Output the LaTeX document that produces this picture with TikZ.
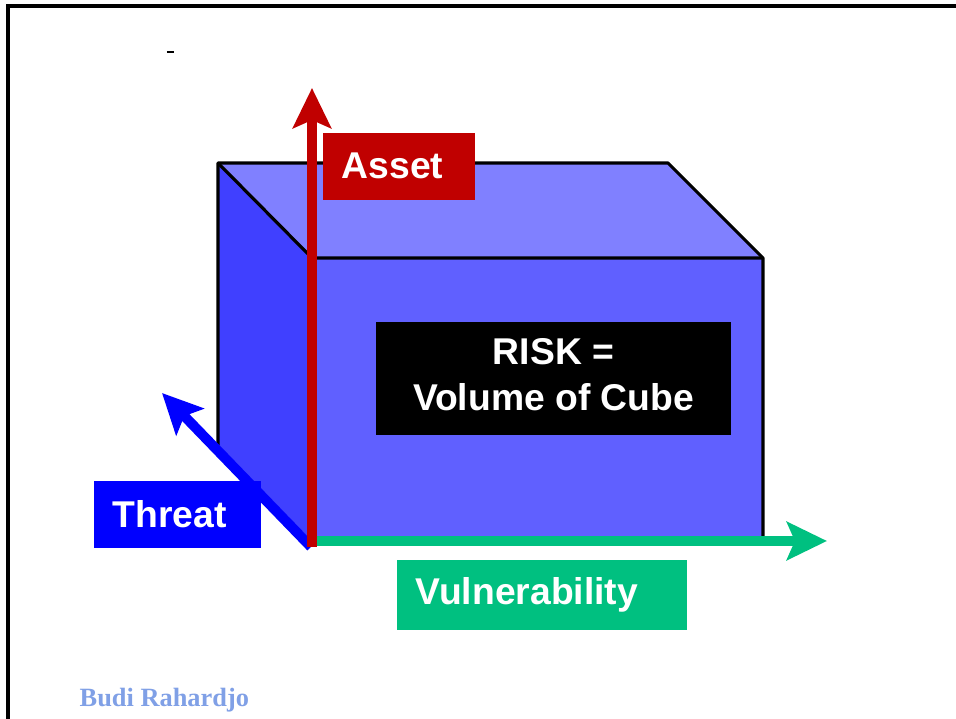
\documentclass[tikz,border=0pt]{standalone}
\usepackage{fontspec}
\setmainfont{Liberation Sans}
\newfontfamily\authorfont{Liberation Serif}
\usetikzlibrary{arrows.meta,positioning}
\definecolor{topface}{RGB}{128,128,255}
\definecolor{frontface}{RGB}{96,96,255}
\definecolor{sideface}{RGB}{64,64,255}
\definecolor{assetred}{RGB}{192,0,0}
\definecolor{threatblue}{RGB}{0,0,255}
\definecolor{vulngreen}{RGB}{0,192,128}
\definecolor{authorblue}{RGB}{128,160,230}

\begin{document}
\begin{tikzpicture}[x=0.01cm, y=-0.01cm,
    cubeline/.style={line width=0.9pt, line join=round},
    axisarrow/.style={line width=0.1cm, -{Stealth[length=0.4cm, width=0.38cm, inset=0.08cm]}},
    axislabel/.style={anchor=north west, inner xsep=0.19cm, inner ysep=0pt,
      align=left, minimum height=0.67cm, text=white,
      font=\fontsize{10.6}{13}\selectfont\bfseries}]
      \useasboundingbox (0,0) rectangle (956,719);
      \draw[line width=0.9pt] (8,719) -- (8,6) -- (956,6);
      \draw[line width=0.3pt] (167,52) -- (174,52);
      % the cube
      \fill[topface] (218,163) -- (668,163) -- (763,258) -- (312,258) -- cycle;
      \fill[sideface] (218,163) -- (312,258) -- (312,541) -- (218,445) -- cycle;
      \fill[frontface] (312,258) rectangle (763,541);
      \draw[cubeline] (218,445) -- (218,163) -- (668,163) -- (763,258) -- (763,541);
      \draw[cubeline] (218,163) -- (312,258) -- (763,258);
      \begin{scope}
        \coordinate (origin) at (312,541);
        \coordinate (threattail) at (311,547);
        \coordinate (threattip) at (162,393);
        \coordinate (vulntip) at (827,541);
        \coordinate (assettail) at (312,547);
        \coordinate (assettip) at (312,88);
      \end{scope}
      \begin{scope}
        \node[axislabel, fill=threatblue, text width=1.29cm] (threat) at (93,480) {Threat};
        \node[axislabel, fill=vulngreen, text width=2.52cm, minimum height=0.70cm] (vuln) at (396,559) {Vulnerability};
        \draw[axisarrow, threatblue] (threattail) -- (threattip);
        \draw[axisarrow, vulngreen] (origin) -- (vulntip);
        \draw[axisarrow, assetred] (assettail) -- (assettip);
        \node[axislabel, fill=assetred, text width=1.14cm] (asset) at (322,132) {Asset};
      \end{scope}
      \node[fill=black, text=white, align=center, minimum width=3.55cm, minimum height=1.13cm,
        font=\fontsize{10.6}{13}\selectfont\bfseries] (risk) at (553.5,378.5)
        {RISK =\\Volume of Cube\rule[-0.08cm]{0pt}{0.08cm}};
      \node[anchor=base west, inner sep=0pt, text=authorblue,
        font=\authorfont\fontsize{7.5}{9}\selectfont\bfseries] (author) at (79,707) {Budi Rahardjo};
    \end{tikzpicture}
\end{document}
